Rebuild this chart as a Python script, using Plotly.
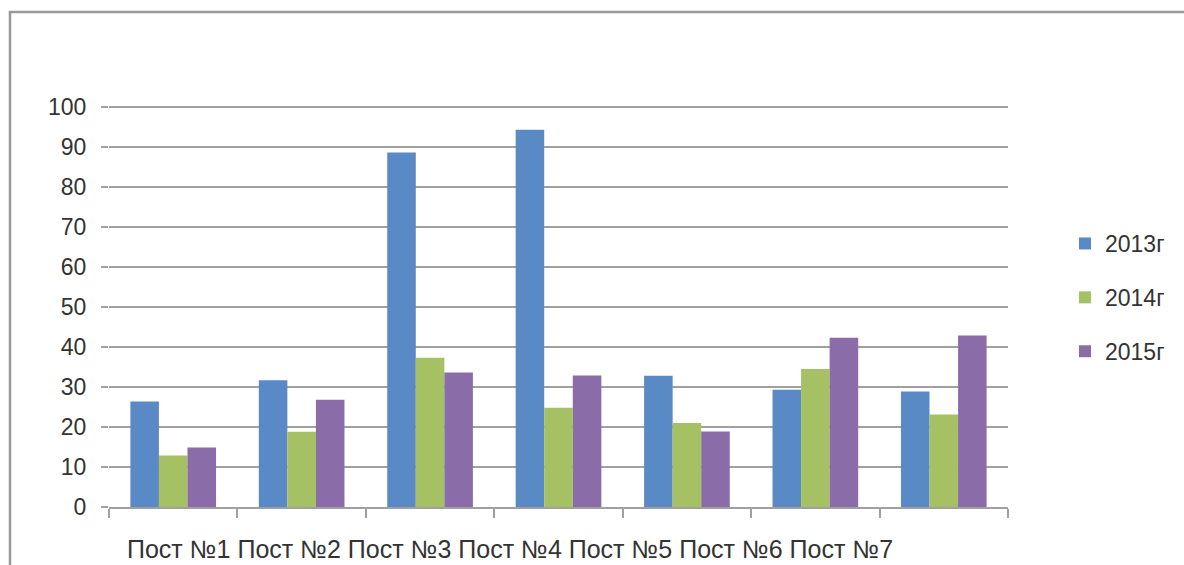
import plotly.graph_objects as go

# Monitoring posts and yearly values
posts = ["Пост №1", "Пост №2", "Пост №3", "Пост №4", "Пост №5", "Пост №6", "Пост №7"]
years = ["2013г", "2014г", "2015г"]
values_2013 = [26.4, 31.7, 88.6, 94.3, 32.8, 29.3, 28.9]
values_2014 = [12.9, 18.8, 37.3, 24.8, 21.0, 34.5, 23.1]
values_2015 = [14.9, 26.8, 33.6, 32.9, 18.9, 42.3, 42.9]
y_ticks = [0, 10, 20, 30, 40, 50, 60, 70, 80, 90, 100]

colors = ["#5a8ac6", "#a5c163", "#8a6ca9"]
series = [values_2013, values_2014, values_2015]

FONT = "Liberation Sans, Arial, sans-serif"
TEXT = "#333333"
GRID = "#a0a0a0"

fig = go.Figure()
for name, vals, col in zip(years, series, colors):
    fig.add_trace(go.Bar(
        x=posts, y=vals, name=name, legendgroup=name,
        marker=dict(color=col, line=dict(width=0)),
    ))

W, H = 1184, 565
ml, mr, mt, mb = 109, 176, 105, 58
pw, ph = W - ml - mr, H - mt - mb
y_top = 100 * ph / 400.0  # a little headroom so the 100 gridline is drawn

fig.update_layout(
    width=W, height=H,
    margin=dict(l=ml, r=mr, t=mt, b=mb, autoexpand=False),
    paper_bgcolor="white", plot_bgcolor="white",
    barmode="group", bargap=0.333, bargroupgap=0,
    font=dict(family=FONT, size=23, color=TEXT),
    showlegend=True,
    legend=dict(
        x=(1065 - ml) / pw, y=(507 - 222) / ph,
        xanchor="left", yanchor="top",
        font=dict(family=FONT, size=23, color=TEXT),
        traceorder="grouped", tracegroupgap=21,
        itemwidth=30, bgcolor="rgba(0,0,0,0)",
    ),
    xaxis=dict(
        type="category", showticklabels=False,
        tickson="boundaries", ticks="outside", ticklen=9,
        tickcolor=GRID, tickwidth=1.5,
        showline=True, linecolor=GRID, linewidth=1.8,
        showgrid=False, zeroline=False,
    ),
    yaxis=dict(
        range=[0, y_top], tickvals=y_ticks,
        ticks="outside", ticklen=7, tickcolor=GRID, tickwidth=1.8,
        showgrid=True, gridcolor=GRID, gridwidth=1.8,
        showline=False, zeroline=False,
        ticklabelstandoff=10,
        tickfont=dict(family=FONT, size=23, color=TEXT),
    ),
    shapes=[dict(
        type="rect", xref="paper", yref="paper",
        x0=(10 - ml) / pw, x1=(W + 20 - ml) / pw,
        y0=(507 - H - 20) / ph, y1=(507 - 12) / ph,
        line=dict(color="#999999", width=2.5), fillcolor="rgba(0,0,0,0)",
        layer="below",
    )],
    annotations=[dict(
        text=" ".join(posts), xref="paper", yref="paper",
        x=(125 - ml) / pw, y=(507 - 549) / ph,
        xanchor="left", yanchor="middle", showarrow=False,
        font=dict(family=FONT, size=25, color=TEXT),
    )],
)

fig.write_html("out.html")
